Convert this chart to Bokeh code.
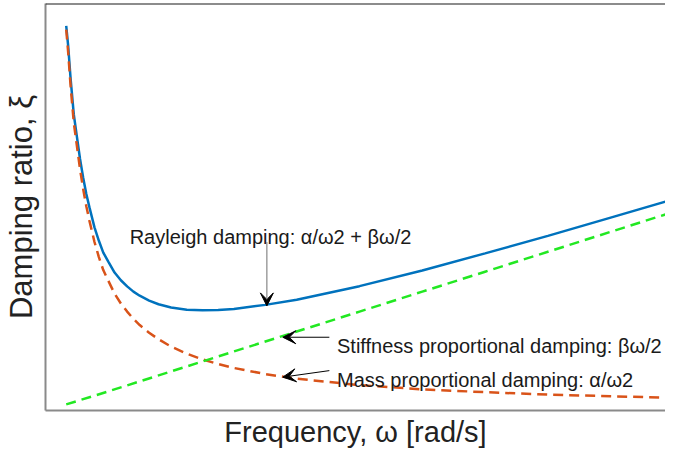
import math
from bokeh.plotting import figure
from bokeh.models import Range1d, LinearAxis, FixedTicker, Label, Arrow, VeeHead, Span
from bokeh.embed import file_html
from bokeh.resources import INLINE

# frequency (arbitrary units)
omega = [0.33, 0.36, 0.40, 0.45, 0.50, 0.55, 0.60, 0.65, 0.70, 0.78, 0.85, 0.92, 1.0,
         1.1, 1.2, 1.3, 1.4, 1.5, 1.65, 1.8, 2.0, 2.25, 2.5, 2.75, 3.0, 3.5, 4.0,
         5.0, 6.0, 7.0, 8.0, 9.0, 10.0]
# Rayleigh damping (sum)
rayleigh = [0.945, 0.898, 0.815, 0.728, 0.673, 0.618, 0.572, 0.532, 0.499, 0.450, 0.417,
            0.388, 0.366, 0.339, 0.320, 0.305, 0.292, 0.282, 0.270, 0.261, 0.253, 0.2475,
            0.2465, 0.247, 0.2495, 0.2595, 0.272, 0.3055, 0.344, 0.386, 0.429, 0.474, 0.519]
# mass proportional damping
mass = [0.936, 0.882, 0.797, 0.708, 0.650, 0.593, 0.544, 0.502, 0.466, 0.414, 0.377,
        0.345, 0.319, 0.287, 0.263, 0.243, 0.225, 0.210, 0.191, 0.175, 0.157, 0.1395,
        0.1255, 0.114, 0.1045, 0.0895, 0.078, 0.0625, 0.052, 0.045, 0.039, 0.035, 0.031]
# stiffness proportional damping
stiff_omega = [0.33, 1.0, 2.0, 3.0, 4.0, 5.0, 6.0, 7.0, 8.0, 9.0, 10.0]
stiffness = [0.015, 0.047, 0.096, 0.145, 0.194, 0.243, 0.292, 0.341, 0.390, 0.439, 0.488]

x_title = "Frequency, ω [rad/s]"
y_title = "Damping ratio, ξ"

FONT = "Liberation Sans"

p = figure(width=665, height=450, output_backend="svg", toolbar_location=None,
           x_range=Range1d(0, 9.873), y_range=Range1d(0, 1.0),
           x_axis_type=None, y_axis_type=None,
           min_border_left=44, min_border_right=0, min_border_top=3, min_border_bottom=39)
p.outline_line_color = None
p.xgrid.visible = False
p.ygrid.visible = False
p.background_fill_color = "white"
p.border_fill_color = "white"

xax = LinearAxis(ticker=FixedTicker(ticks=[]), axis_line_color="#8a8a8a", axis_line_width=2,
                 major_tick_line_color=None, minor_tick_line_color=None,
                 major_label_text_font_size="0px",
                 axis_label=x_title, axis_label_text_font=FONT,
                 axis_label_text_font_size="29px", axis_label_text_font_style="normal",
                 axis_label_text_color="#222222", axis_label_standoff=5)
p.add_layout(xax, "below")
yax = LinearAxis(ticker=FixedTicker(ticks=[]), axis_line_color="#8a8a8a", axis_line_width=2,
                 major_tick_line_color=None, minor_tick_line_color=None,
                 major_label_text_font_size="0px",
                 axis_label=y_title, axis_label_text_font=FONT,
                 axis_label_text_font_size="31px", axis_label_text_font_style="normal",
                 axis_label_text_color="#222222", axis_label_standoff=7)
p.add_layout(yax, "left")

p.add_layout(Span(location=1.0, dimension="width", line_color="#1a1a1a", line_width=2))

p.line(omega, rayleigh, line_color="#0072BD", line_width=2.5)
p.line(omega, mass, line_color="#D95319", line_width=2.5, line_dash="10 6")
p.line(stiff_omega, stiffness, line_color="#22e822", line_width=2.5, line_dash="10 6")

txt_col = "#1a1a1a"
p.add_layout(Label(x=1.34, y=0.4257, text="Rayleigh damping: α/ω2 + βω/2",
                   text_font=FONT, text_font_size="20px", text_color=txt_col,
                   text_baseline="alphabetic"))
p.add_layout(Label(x=4.642, y=0.1576, text="Stiffness proportional damping: βω/2",
                   text_font=FONT, text_font_size="20px", text_color=txt_col,
                   text_baseline="alphabetic"))
p.add_layout(Label(x=4.642, y=0.076, text="Mass proportional damping: α/ω2",
                   text_font=FONT, text_font_size="20px", text_color=txt_col,
                   text_baseline="alphabetic"))

p.add_layout(Arrow(x_start=3.525, y_start=0.414, x_end=3.525, y_end=0.257,
                   line_color="#888888", line_width=1.2,
                   end=VeeHead(size=13, fill_color="black", line_color="black")))
p.add_layout(Arrow(x_start=4.52, y_start=0.180, x_end=3.779, y_end=0.180,
                   line_color="black", line_width=1,
                   end=VeeHead(size=13, fill_color="black", line_color="black")))
p.add_layout(Arrow(x_start=4.52, y_start=0.098, x_end=3.779, y_end=0.082,
                   line_color="black", line_width=1,
                   end=VeeHead(size=13, fill_color="black", line_color="black")))

open("out.html", "w").write(file_html(p, INLINE))
